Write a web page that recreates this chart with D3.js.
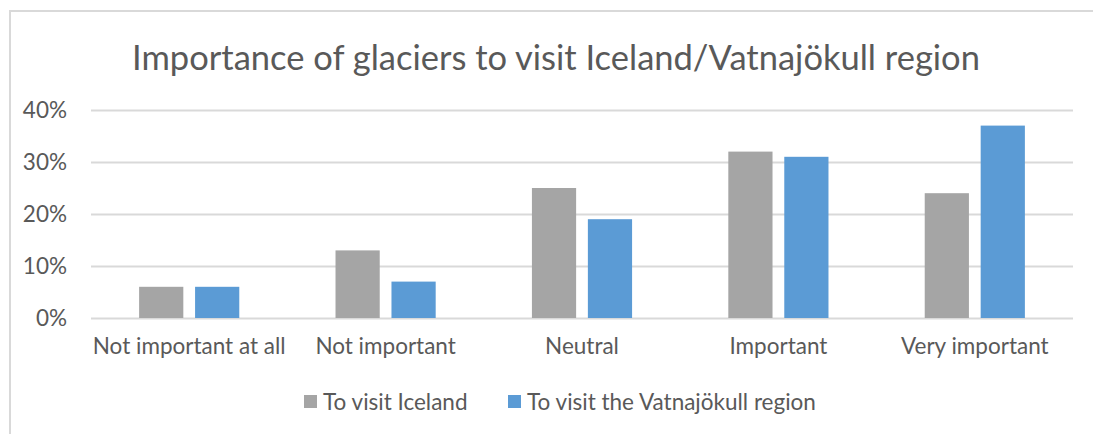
<!DOCTYPE html>
<html>
<head>
<meta charset="utf-8">
<script src="https://cdn.jsdelivr.net/npm/d3@7"></script>
<style>
  html, body { margin: 0; padding: 0; background: #fff; }
  svg text { font-family: Lato, "Open Sans", sans-serif; fill: #595959; }
</style>
</head>
<body>
<div id="chart"></div>
<script>
(() => {
"use strict";

const WIDTH = 1093, HEIGHT = 434;

// data
const categories = ["Not important at all", "Not important", "Neutral", "Important", "Very important"];
const seriesNames = ["To visit Iceland", "To visit the Vatnajökull region"];
const iceland = [0.06, 0.13, 0.25, 0.32, 0.24];
const vatnajokull = [0.06, 0.07, 0.19, 0.31, 0.37];
const yTicks = [0, 0.1, 0.2, 0.3, 0.4];
const colors = ["#a5a5a5", "#5b9bd5"];

const plot = { left: 91, right: 1073, top: 110, bottom: 318 };

let svg = d3.select("#chart").append("svg")
  .attr("width", WIDTH)
  .attr("height", HEIGHT);

// chart frame
svg.append("path")
  .attr("d", `M10,${HEIGHT} V11 H${WIDTH}`)
  .attr("fill", "none")
  .attr("stroke", "#d9d9d9")
  .attr("stroke-width", 2);

svg.append("text")
  .attr("x", 556)
  .attr("y", 70)
  .attr("text-anchor", "middle")
  .attr("font-size", 34.5)
  .text("Importance of glaciers to visit Iceland/Vatnajökull region");

let x0 = d3.scaleBand()
  .domain(categories)
  .range([plot.left, plot.right])
  .paddingInner(0.49)
  .paddingOuter(0.245);
let x1 = d3.scaleBand()
  .domain(seriesNames)
  .range([0, x0.bandwidth()])
  .paddingInner(0.21);
let y = d3.scaleLinear()
  .domain([0, 0.4])
  .range([plot.bottom, plot.top]);

// gridlines + y labels
let yAxis = svg.append("g")
  .attr("transform", `translate(${plot.left},0)`)
  .call(d3.axisLeft(y)
    .tickValues(yTicks)
    .tickFormat(d3.format(".0%"))
    .tickSize(-(plot.right - plot.left))
    .tickPadding(24));
yAxis.select(".domain").remove();
yAxis.selectAll("line").attr("stroke", "#d9d9d9").attr("stroke-width", 2);
yAxis.selectAll("text")
  .attr("font-size", 22.5)
  .attr("fill", "#595959");

let series = [iceland, vatnajokull];
let groups = svg.append("g").selectAll("g")
  .data(categories)
  .join("g")
  .attr("transform", d => `translate(${x0(d)},0)`);
groups.selectAll("rect")
  .data((d, i) => seriesNames.map((s, j) => ({ s: s, v: series[j][i], j: j })))
  .join("rect")
  .attr("x", d => x1(d.s))
  .attr("width", x1.bandwidth())
  .attr("y", d => y(d.v))
  .attr("height", d => y(0) - y(d.v))
  .attr("fill", d => colors[d.j]);

// category axis labels
let xAxis = svg.append("g")
  .attr("transform", `translate(0,${plot.bottom})`)
  .call(d3.axisBottom(x0).tickSize(0).tickPadding(20));
xAxis.select(".domain").remove();
xAxis.selectAll("text")
  .attr("font-size", 22.5)
  .attr("fill", "#595959");

// legend
let legendX = [304, 508];
let legend = svg.append("g").selectAll("g")
  .data(seriesNames)
  .join("g")
  .attr("transform", (d, i) => `translate(${legendX[i]},395)`);
legend.append("rect")
  .attr("width", 13)
  .attr("height", 13)
  .attr("fill", (d, i) => colors[i]);
legend.append("text")
  .attr("x", 19)
  .attr("y", 14.5)
  .attr("font-size", 22.5)
  .text(d => d);
})();
</script>
</body>
</html>
